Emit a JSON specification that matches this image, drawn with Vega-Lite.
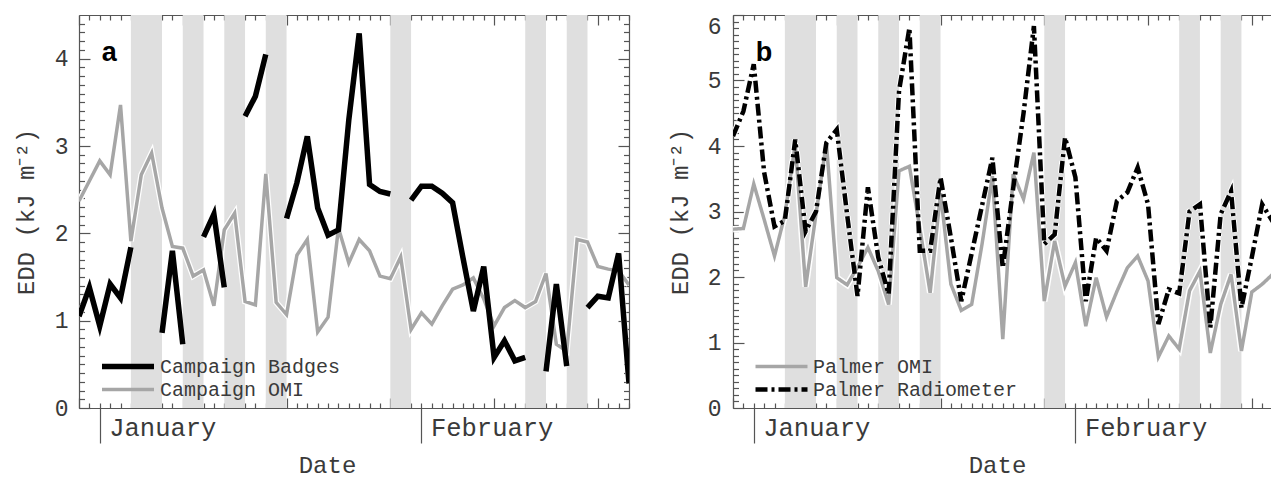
{
  "$schema": "https://vega.github.io/schema/vega-lite/v6.json",
  "background": "white",
  "padding": {"left": 14, "top": 14, "right": 0, "bottom": 3},
  "spacing": 104,
  "bounds": "flush",
  "config": {
    "view": {"stroke": null},
    "font": "Liberation Mono",
    "axis": {"grid": false, "labelFont": "Liberation Mono", "titleFont": "Liberation Mono", "domainColor": "#555555", "tickColor": "#555555", "labelColor": "#3a3a3a", "titleColor": "#3a3a3a", "titleFontWeight": "normal", "domainWidth": 1.2, "tickWidth": 1.2, "labelFlush": false, "labelOverlap": false, "labelBound": false},
    "legend": {"labelFont": "Liberation Mono", "labelColor": "#3a3a3a", "labelLimit": 0}
  },
  "datasets": {
    "bands": [{"start": 5, "end": 8}, {"start": 10, "end": 12}, {"start": 14, "end": 16}, {"start": 18, "end": 20}, {"start": 30, "end": 32}, {"start": 43, "end": 45}, {"start": 47, "end": 49}],
    "left": [
      {"day": 0, "value": 2.37, "series": "Campaign OMI", "seg": 1}, {"day": 1, "value": 2.6, "series": "Campaign OMI", "seg": 1}, {"day": 2, "value": 2.83, "series": "Campaign OMI", "seg": 1}, {"day": 3, "value": 2.67, "series": "Campaign OMI", "seg": 1}, {"day": 4, "value": 3.47, "series": "Campaign OMI", "seg": 1}, {"day": 5, "value": 1.91, "series": "Campaign OMI", "seg": 1}, {"day": 6, "value": 2.67, "series": "Campaign OMI", "seg": 1}, {"day": 7, "value": 2.92, "series": "Campaign OMI", "seg": 1}, {"day": 8, "value": 2.29, "series": "Campaign OMI", "seg": 1}, {"day": 9, "value": 1.85, "series": "Campaign OMI", "seg": 1},
      {"day": 10, "value": 1.83, "series": "Campaign OMI", "seg": 1}, {"day": 11, "value": 1.51, "series": "Campaign OMI", "seg": 1}, {"day": 12, "value": 1.58, "series": "Campaign OMI", "seg": 1}, {"day": 13, "value": 1.17, "series": "Campaign OMI", "seg": 1}, {"day": 14, "value": 2.04, "series": "Campaign OMI", "seg": 1}, {"day": 15, "value": 2.23, "series": "Campaign OMI", "seg": 1}, {"day": 16, "value": 1.22, "series": "Campaign OMI", "seg": 1}, {"day": 17, "value": 1.18, "series": "Campaign OMI", "seg": 1}, {"day": 18, "value": 2.68, "series": "Campaign OMI", "seg": 1}, {"day": 19, "value": 1.21, "series": "Campaign OMI", "seg": 1},
      {"day": 20, "value": 1.07, "series": "Campaign OMI", "seg": 1}, {"day": 21, "value": 1.75, "series": "Campaign OMI", "seg": 1}, {"day": 22, "value": 1.93, "series": "Campaign OMI", "seg": 1}, {"day": 23, "value": 0.87, "series": "Campaign OMI", "seg": 1}, {"day": 24, "value": 1.04, "series": "Campaign OMI", "seg": 1}, {"day": 25, "value": 2.06, "series": "Campaign OMI", "seg": 1}, {"day": 26, "value": 1.66, "series": "Campaign OMI", "seg": 1}, {"day": 27, "value": 1.93, "series": "Campaign OMI", "seg": 1}, {"day": 28, "value": 1.8, "series": "Campaign OMI", "seg": 1}, {"day": 29, "value": 1.51, "series": "Campaign OMI", "seg": 1},
      {"day": 30, "value": 1.48, "series": "Campaign OMI", "seg": 1}, {"day": 31, "value": 1.73, "series": "Campaign OMI", "seg": 1}, {"day": 32, "value": 0.9, "series": "Campaign OMI", "seg": 1}, {"day": 33, "value": 1.09, "series": "Campaign OMI", "seg": 1}, {"day": 34, "value": 0.96, "series": "Campaign OMI", "seg": 1}, {"day": 35, "value": 1.17, "series": "Campaign OMI", "seg": 1}, {"day": 36, "value": 1.36, "series": "Campaign OMI", "seg": 1}, {"day": 37, "value": 1.41, "series": "Campaign OMI", "seg": 1}, {"day": 38, "value": 1.49, "series": "Campaign OMI", "seg": 1}, {"day": 39, "value": 1.25, "series": "Campaign OMI", "seg": 1},
      {"day": 40, "value": 0.94, "series": "Campaign OMI", "seg": 1}, {"day": 41, "value": 1.15, "series": "Campaign OMI", "seg": 1}, {"day": 42, "value": 1.23, "series": "Campaign OMI", "seg": 1}, {"day": 43, "value": 1.15, "series": "Campaign OMI", "seg": 1}, {"day": 44, "value": 1.22, "series": "Campaign OMI", "seg": 1}, {"day": 45, "value": 1.54, "series": "Campaign OMI", "seg": 1}, {"day": 46, "value": 0.73, "series": "Campaign OMI", "seg": 1}, {"day": 47, "value": 0.65, "series": "Campaign OMI", "seg": 1}, {"day": 48, "value": 1.93, "series": "Campaign OMI", "seg": 1}, {"day": 49, "value": 1.9, "series": "Campaign OMI", "seg": 1},
      {"day": 50, "value": 1.62, "series": "Campaign OMI", "seg": 1}, {"day": 51, "value": 1.59, "series": "Campaign OMI", "seg": 1}, {"day": 52, "value": 1.57, "series": "Campaign OMI", "seg": 1}, {"day": 53, "value": 1.41, "series": "Campaign OMI", "seg": 1},
      {"day": 0, "value": 1.05, "series": "Campaign Badges", "seg": 1}, {"day": 1, "value": 1.38, "series": "Campaign Badges", "seg": 1}, {"day": 2, "value": 0.94, "series": "Campaign Badges", "seg": 1}, {"day": 3, "value": 1.42, "series": "Campaign Badges", "seg": 1}, {"day": 4, "value": 1.26, "series": "Campaign Badges", "seg": 1}, {"day": 5, "value": 1.84, "series": "Campaign Badges", "seg": 1},
      {"day": 8, "value": 0.86, "series": "Campaign Badges", "seg": 2}, {"day": 9, "value": 1.8, "series": "Campaign Badges", "seg": 2}, {"day": 10, "value": 0.73, "series": "Campaign Badges", "seg": 2},
      {"day": 12, "value": 1.96, "series": "Campaign Badges", "seg": 3}, {"day": 13, "value": 2.22, "series": "Campaign Badges", "seg": 3}, {"day": 14, "value": 1.38, "series": "Campaign Badges", "seg": 3},
      {"day": 16, "value": 3.34, "series": "Campaign Badges", "seg": 4}, {"day": 17, "value": 3.57, "series": "Campaign Badges", "seg": 4}, {"day": 18, "value": 4.05, "series": "Campaign Badges", "seg": 4},
      {"day": 20, "value": 2.17, "series": "Campaign Badges", "seg": 5}, {"day": 21, "value": 2.58, "series": "Campaign Badges", "seg": 5}, {"day": 22, "value": 3.11, "series": "Campaign Badges", "seg": 5}, {"day": 23, "value": 2.29, "series": "Campaign Badges", "seg": 5}, {"day": 24, "value": 1.98, "series": "Campaign Badges", "seg": 5}, {"day": 25, "value": 2.04, "series": "Campaign Badges", "seg": 5}, {"day": 26, "value": 3.3, "series": "Campaign Badges", "seg": 5}, {"day": 27, "value": 4.29, "series": "Campaign Badges", "seg": 5}, {"day": 28, "value": 2.56, "series": "Campaign Badges", "seg": 5}, {"day": 29, "value": 2.48, "series": "Campaign Badges", "seg": 5}, {"day": 30, "value": 2.45, "series": "Campaign Badges", "seg": 5},
      {"day": 32, "value": 2.38, "series": "Campaign Badges", "seg": 6}, {"day": 33, "value": 2.54, "series": "Campaign Badges", "seg": 6}, {"day": 34, "value": 2.54, "series": "Campaign Badges", "seg": 6}, {"day": 35, "value": 2.46, "series": "Campaign Badges", "seg": 6}, {"day": 36, "value": 2.35, "series": "Campaign Badges", "seg": 6}, {"day": 37, "value": 1.72, "series": "Campaign Badges", "seg": 6}, {"day": 38, "value": 1.11, "series": "Campaign Badges", "seg": 6}, {"day": 39, "value": 1.62, "series": "Campaign Badges", "seg": 6}, {"day": 40, "value": 0.58, "series": "Campaign Badges", "seg": 6}, {"day": 41, "value": 0.77, "series": "Campaign Badges", "seg": 6}, {"day": 42, "value": 0.54, "series": "Campaign Badges", "seg": 6}, {"day": 43, "value": 0.58, "series": "Campaign Badges", "seg": 6},
      {"day": 45, "value": 0.42, "series": "Campaign Badges", "seg": 7}, {"day": 46, "value": 1.42, "series": "Campaign Badges", "seg": 7}, {"day": 47, "value": 0.48, "series": "Campaign Badges", "seg": 7},
      {"day": 49, "value": 1.15, "series": "Campaign Badges", "seg": 8}, {"day": 50, "value": 1.28, "series": "Campaign Badges", "seg": 8}, {"day": 51, "value": 1.26, "series": "Campaign Badges", "seg": 8}, {"day": 52, "value": 1.77, "series": "Campaign Badges", "seg": 8}, {"day": 53, "value": 0.28, "series": "Campaign Badges", "seg": 8}
    ],
    "right": [
      {"day": 0, "value": 2.73, "series": "Palmer OMI", "seg": 1}, {"day": 1, "value": 2.74, "series": "Palmer OMI", "seg": 1}, {"day": 2, "value": 3.42, "series": "Palmer OMI", "seg": 1}, {"day": 3, "value": 2.88, "series": "Palmer OMI", "seg": 1}, {"day": 4, "value": 2.32, "series": "Palmer OMI", "seg": 1}, {"day": 5, "value": 2.95, "series": "Palmer OMI", "seg": 1}, {"day": 6, "value": 4.03, "series": "Palmer OMI", "seg": 1}, {"day": 7, "value": 1.85, "series": "Palmer OMI", "seg": 1}, {"day": 8, "value": 2.96, "series": "Palmer OMI", "seg": 1}, {"day": 9, "value": 4.05, "series": "Palmer OMI", "seg": 1},
      {"day": 10, "value": 1.99, "series": "Palmer OMI", "seg": 1}, {"day": 11, "value": 1.88, "series": "Palmer OMI", "seg": 1}, {"day": 12, "value": 2.15, "series": "Palmer OMI", "seg": 1}, {"day": 13, "value": 2.45, "series": "Palmer OMI", "seg": 1}, {"day": 14, "value": 2.09, "series": "Palmer OMI", "seg": 1}, {"day": 15, "value": 1.58, "series": "Palmer OMI", "seg": 1}, {"day": 16, "value": 3.62, "series": "Palmer OMI", "seg": 1}, {"day": 17, "value": 3.69, "series": "Palmer OMI", "seg": 1}, {"day": 18, "value": 2.75, "series": "Palmer OMI", "seg": 1}, {"day": 19, "value": 1.76, "series": "Palmer OMI", "seg": 1},
      {"day": 20, "value": 3.28, "series": "Palmer OMI", "seg": 1}, {"day": 21, "value": 1.89, "series": "Palmer OMI", "seg": 1}, {"day": 22, "value": 1.49, "series": "Palmer OMI", "seg": 1}, {"day": 23, "value": 1.58, "series": "Palmer OMI", "seg": 1}, {"day": 24, "value": 2.5, "series": "Palmer OMI", "seg": 1}, {"day": 25, "value": 3.54, "series": "Palmer OMI", "seg": 1}, {"day": 26, "value": 1.05, "series": "Palmer OMI", "seg": 1}, {"day": 27, "value": 3.57, "series": "Palmer OMI", "seg": 1}, {"day": 28, "value": 3.19, "series": "Palmer OMI", "seg": 1}, {"day": 29, "value": 3.9, "series": "Palmer OMI", "seg": 1},
      {"day": 30, "value": 1.63, "series": "Palmer OMI", "seg": 1}, {"day": 31, "value": 2.55, "series": "Palmer OMI", "seg": 1}, {"day": 32, "value": 1.86, "series": "Palmer OMI", "seg": 1}, {"day": 33, "value": 2.22, "series": "Palmer OMI", "seg": 1}, {"day": 34, "value": 1.25, "series": "Palmer OMI", "seg": 1}, {"day": 35, "value": 1.99, "series": "Palmer OMI", "seg": 1}, {"day": 36, "value": 1.39, "series": "Palmer OMI", "seg": 1}, {"day": 37, "value": 1.78, "series": "Palmer OMI", "seg": 1}, {"day": 38, "value": 2.14, "series": "Palmer OMI", "seg": 1}, {"day": 39, "value": 2.32, "series": "Palmer OMI", "seg": 1},
      {"day": 40, "value": 1.94, "series": "Palmer OMI", "seg": 1}, {"day": 41, "value": 0.78, "series": "Palmer OMI", "seg": 1}, {"day": 42, "value": 1.1, "series": "Palmer OMI", "seg": 1}, {"day": 43, "value": 0.9, "series": "Palmer OMI", "seg": 1}, {"day": 44, "value": 1.79, "series": "Palmer OMI", "seg": 1}, {"day": 45, "value": 2.09, "series": "Palmer OMI", "seg": 1}, {"day": 46, "value": 0.84, "series": "Palmer OMI", "seg": 1}, {"day": 47, "value": 1.58, "series": "Palmer OMI", "seg": 1}, {"day": 48, "value": 2.04, "series": "Palmer OMI", "seg": 1}, {"day": 49, "value": 0.87, "series": "Palmer OMI", "seg": 1},
      {"day": 50, "value": 1.77, "series": "Palmer OMI", "seg": 1}, {"day": 51, "value": 1.89, "series": "Palmer OMI", "seg": 1}, {"day": 52, "value": 2.04, "series": "Palmer OMI", "seg": 1}, {"day": 53, "value": 2.1, "series": "Palmer OMI", "seg": 1},
      {"day": 0, "value": 4.15, "series": "Palmer Radiometer", "seg": 1}, {"day": 1, "value": 4.53, "series": "Palmer Radiometer", "seg": 1}, {"day": 2, "value": 5.25, "series": "Palmer Radiometer", "seg": 1}, {"day": 3, "value": 3.6, "series": "Palmer Radiometer", "seg": 1}, {"day": 4, "value": 2.77, "series": "Palmer Radiometer", "seg": 1}, {"day": 5, "value": 2.86, "series": "Palmer Radiometer", "seg": 1}, {"day": 6, "value": 4.1, "series": "Palmer Radiometer", "seg": 1}, {"day": 7, "value": 2.7, "series": "Palmer Radiometer", "seg": 1}, {"day": 8, "value": 3.0, "series": "Palmer Radiometer", "seg": 1}, {"day": 9, "value": 4.05, "series": "Palmer Radiometer", "seg": 1},
      {"day": 10, "value": 4.25, "series": "Palmer Radiometer", "seg": 1}, {"day": 11, "value": 2.95, "series": "Palmer Radiometer", "seg": 1}, {"day": 12, "value": 1.71, "series": "Palmer Radiometer", "seg": 1}, {"day": 13, "value": 3.37, "series": "Palmer Radiometer", "seg": 1}, {"day": 14, "value": 2.3, "series": "Palmer Radiometer", "seg": 1}, {"day": 15, "value": 1.74, "series": "Palmer Radiometer", "seg": 1}, {"day": 16, "value": 4.84, "series": "Palmer Radiometer", "seg": 1}, {"day": 17, "value": 5.8, "series": "Palmer Radiometer", "seg": 1}, {"day": 18, "value": 2.4, "series": "Palmer Radiometer", "seg": 1}, {"day": 19, "value": 2.4, "series": "Palmer Radiometer", "seg": 1},
      {"day": 20, "value": 3.52, "series": "Palmer Radiometer", "seg": 1}, {"day": 21, "value": 2.6, "series": "Palmer Radiometer", "seg": 1}, {"day": 22, "value": 1.63, "series": "Palmer Radiometer", "seg": 1}, {"day": 23, "value": 2.36, "series": "Palmer Radiometer", "seg": 1}, {"day": 24, "value": 3.09, "series": "Palmer Radiometer", "seg": 1}, {"day": 25, "value": 3.82, "series": "Palmer Radiometer", "seg": 1}, {"day": 26, "value": 2.14, "series": "Palmer Radiometer", "seg": 1}, {"day": 27, "value": 3.35, "series": "Palmer Radiometer", "seg": 1}, {"day": 28, "value": 4.5, "series": "Palmer Radiometer", "seg": 1}, {"day": 29, "value": 5.83, "series": "Palmer Radiometer", "seg": 1},
      {"day": 30, "value": 2.5, "series": "Palmer Radiometer", "seg": 1}, {"day": 31, "value": 2.65, "series": "Palmer Radiometer", "seg": 1}, {"day": 32, "value": 4.13, "series": "Palmer Radiometer", "seg": 1}, {"day": 33, "value": 3.52, "series": "Palmer Radiometer", "seg": 1}, {"day": 34, "value": 1.63, "series": "Palmer Radiometer", "seg": 1}, {"day": 35, "value": 2.6, "series": "Palmer Radiometer", "seg": 1}, {"day": 36, "value": 2.4, "series": "Palmer Radiometer", "seg": 1}, {"day": 37, "value": 3.16, "series": "Palmer Radiometer", "seg": 1}, {"day": 38, "value": 3.29, "series": "Palmer Radiometer", "seg": 1}, {"day": 39, "value": 3.67, "series": "Palmer Radiometer", "seg": 1},
      {"day": 40, "value": 3.11, "series": "Palmer Radiometer", "seg": 1}, {"day": 41, "value": 1.28, "series": "Palmer Radiometer", "seg": 1}, {"day": 42, "value": 1.81, "series": "Palmer Radiometer", "seg": 1}, {"day": 43, "value": 1.75, "series": "Palmer Radiometer", "seg": 1}, {"day": 44, "value": 3.0, "series": "Palmer Radiometer", "seg": 1}, {"day": 45, "value": 3.11, "series": "Palmer Radiometer", "seg": 1}, {"day": 46, "value": 1.23, "series": "Palmer Radiometer", "seg": 1}, {"day": 47, "value": 2.96, "series": "Palmer Radiometer", "seg": 1}, {"day": 48, "value": 3.31, "series": "Palmer Radiometer", "seg": 1}, {"day": 49, "value": 1.53, "series": "Palmer Radiometer", "seg": 1},
      {"day": 50, "value": 2.3, "series": "Palmer Radiometer", "seg": 1}, {"day": 51, "value": 3.11, "series": "Palmer Radiometer", "seg": 1}, {"day": 52, "value": 2.85, "series": "Palmer Radiometer", "seg": 1}, {"day": 53, "value": 2.9, "series": "Palmer Radiometer", "seg": 1}
    ]
  },
  "hconcat": [
    {
      "width": 550,
      "height": 393,
      "layer": [
        {
          "data": {"name": "bands"},
          "mark": {"type": "rect", "color": "#dfdfdf"},
          "encoding": {
            "x": {"field": "start", "type": "quantitative", "scale": {"domain": [0, 53], "nice": false, "zero": false},
              "axis": {"orient": "bottom", "values": [0,1,2,3,4,5,6,7,8,9,10,11,12,13,14,15,16,17,18,19,20,21,22,23,24,25,26,27,28,29,30,31,32,33,34,35,36,37,38,39,40,41,42,43,44,45,46,47,48,49,50,51,52,53], "labels": false, "title": null,
                "tickSize": {"condition": {"test": "datum.value % 10 === 0", "value": -10}, "value": -5}}},
            "x2": {"field": "end"}
          }
        },
        {
          "data": {"name": "left"},
          "mark": {"type": "line", "color": "white", "strokeWidth": 6, "clip": true},
          "encoding": {
            "x": {"field": "day", "type": "quantitative",
              "axis": {"orient": "top", "values": [0,1,2,3,4,5,6,7,8,9,10,11,12,13,14,15,16,17,18,19,20,21,22,23,24,25,26,27,28,29,30,31,32,33,34,35,36,37,38,39,40,41,42,43,44,45,46,47,48,49,50,51,52,53], "labels": false, "title": null,
                "tickSize": {"condition": {"test": "datum.value % 10 === 0", "value": -10}, "value": -5}}},
            "y": {"field": "value", "type": "quantitative", "scale": {"domain": [0, 4.5], "nice": false},
              "axis": {"orient": "left", "values": [0, 1, 2, 3, 4], "ticks": false, "domain": false, "labelPadding": 11, "labelFontSize": 23,
                "title": "EDD (kJ m⁻²)", "titleFontSize": 24, "titleAngle": -90, "titleX": -46, "titleY": 196.5, "titleBaseline": "alphabetic", "titleAlign": "center"}},
            "detail": [{"field": "series"}, {"field": "seg"}]
          }
        },
        {
          "data": {"name": "left"},
          "transform": [{"filter": "datum.series === 'Campaign OMI'"}],
          "mark": {"type": "line", "clip": true},
          "encoding": {
            "x": {"field": "day", "type": "quantitative",
              "axis": {"orient": "bottom", "values": [2, 33], "labelExpr": "datum.value < 10 ? 'January' : 'February'", "tickSize": 35, "domain": false,
                "labelAlign": "left", "labelBaseline": "alphabetic", "labelOffset": 9, "labelPadding": -8, "labelFontSize": 25.5,
                "title": "Date", "titleFontSize": 24, "titleX": 248, "titleY": 64, "titleAlign": "center", "titleBaseline": "alphabetic"}},
            "y": {"field": "value", "type": "quantitative",
              "axis": {"orient": "left", "values": [0,0.1,0.2,0.3,0.4,0.5,0.6,0.7,0.8,0.9,1,1.1,1.2,1.3,1.4,1.5,1.6,1.7,1.8,1.9,2,2.1,2.2,2.3,2.4,2.5,2.6,2.7,2.8,2.9,3,3.1,3.2,3.3,3.4,3.5,3.6,3.7,3.8,3.9,4,4.1,4.2,4.3,4.4], "labels": false, "title": null,
                "tickSize": {"condition": {"test": "abs(datum.value - round(datum.value)) < 0.01", "value": -11}, "value": -5.5}}},
            "color": {"field": "series", "type": "nominal", "scale": {"domain": ["Campaign Badges", "Campaign OMI"], "range": ["#000000", "#a6a6a6"]},
              "legend": {"orient": "none", "legendX": 20, "legendY": 340, "title": null, "symbolType": "stroke", "symbolSize": 2704, "labelFontSize": 20, "labelOffset": 3, "rowPadding": 0, "clipHeight": 23, "padding": 0}},
            "strokeWidth": {"field": "series", "type": "nominal", "scale": {"domain": ["Campaign Badges", "Campaign OMI"], "range": [5.5, 3.5]},
              "legend": {"orient": "none", "legendX": 20, "legendY": 340, "title": null, "symbolType": "stroke", "symbolSize": 2704, "labelFontSize": 20, "labelOffset": 3, "rowPadding": 0, "clipHeight": 23, "padding": 0}},
            "detail": {"field": "seg"}
          }
        },
        {
          "data": {"name": "left"},
          "transform": [{"filter": "datum.series === 'Campaign Badges'"}],
          "mark": {"type": "line", "clip": true},
          "encoding": {
            "x": {"field": "day", "type": "quantitative", "axis": null},
            "y": {"field": "value", "type": "quantitative",
              "axis": {"orient": "right", "values": [0,0.1,0.2,0.3,0.4,0.5,0.6,0.7,0.8,0.9,1,1.1,1.2,1.3,1.4,1.5,1.6,1.7,1.8,1.9,2,2.1,2.2,2.3,2.4,2.5,2.6,2.7,2.8,2.9,3,3.1,3.2,3.3,3.4,3.5,3.6,3.7,3.8,3.9,4,4.1,4.2,4.3,4.4], "labels": false, "title": null,
                "tickSize": {"condition": {"test": "abs(datum.value - round(datum.value)) < 0.01", "value": -11}, "value": -5.5}}},
            "color": {"field": "series", "type": "nominal", "scale": {"domain": ["Campaign Badges", "Campaign OMI"], "range": ["#000000", "#a6a6a6"]},
              "legend": {"orient": "none", "legendX": 20, "legendY": 340, "title": null, "symbolType": "stroke", "symbolSize": 2704, "labelFontSize": 20, "labelOffset": 3, "rowPadding": 0, "clipHeight": 23, "padding": 0}},
            "strokeWidth": {"field": "series", "type": "nominal", "scale": {"domain": ["Campaign Badges", "Campaign OMI"], "range": [5.5, 3.5]},
              "legend": {"orient": "none", "legendX": 20, "legendY": 340, "title": null, "symbolType": "stroke", "symbolSize": 2704, "labelFontSize": 20, "labelOffset": 3, "rowPadding": 0, "clipHeight": 23, "padding": 0}},
            "detail": {"field": "seg"}
          }
        },
        {
          "data": {"values": [{"label": "a"}]},
          "mark": {"type": "text", "font": "Liberation Sans", "fontSize": 27, "fontWeight": "bold", "align": "left", "baseline": "alphabetic", "color": "#000000"},
          "encoding": {
            "x": {"datum": 2.2, "type": "quantitative", "axis": null},
            "y": {"datum": 3.97, "type": "quantitative", "axis": null},
            "text": {"field": "label"}
          }
        }
      ],
      "resolve": {"axis": {"x": "independent", "y": "independent"}}
    },
    {
      "width": 538,
      "height": 393,
      "layer": [
        {
          "data": {"name": "bands"},
          "mark": {"type": "rect", "color": "#dfdfdf"},
          "encoding": {
            "x": {"field": "start", "type": "quantitative", "scale": {"domain": [0, 51.85], "nice": false, "zero": false},
              "axis": {"orient": "bottom", "values": [0,1,2,3,4,5,6,7,8,9,10,11,12,13,14,15,16,17,18,19,20,21,22,23,24,25,26,27,28,29,30,31,32,33,34,35,36,37,38,39,40,41,42,43,44,45,46,47,48,49,50,51], "labels": false, "title": null,
                "tickSize": {"condition": {"test": "datum.value % 10 === 0", "value": -10}, "value": -5}}},
            "x2": {"field": "end"}
          }
        },
        {
          "data": {"name": "right"},
          "mark": {"type": "line", "color": "white", "strokeWidth": 6.5, "clip": true},
          "encoding": {
            "x": {"field": "day", "type": "quantitative",
              "axis": {"orient": "top", "values": [0,1,2,3,4,5,6,7,8,9,10,11,12,13,14,15,16,17,18,19,20,21,22,23,24,25,26,27,28,29,30,31,32,33,34,35,36,37,38,39,40,41,42,43,44,45,46,47,48,49,50,51], "labels": false, "title": null,
                "tickSize": {"condition": {"test": "datum.value % 10 === 0", "value": -10}, "value": -5}}},
            "y": {"field": "value", "type": "quantitative", "scale": {"domain": [0, 6], "nice": false},
              "axis": {"orient": "left", "values": [0, 1, 2, 3, 4, 5, 6], "ticks": false, "domain": false, "labelPadding": 12, "labelFontSize": 23,
                "labelBaseline": {"condition": {"test": "datum.value === 6", "value": "top"}, "value": "middle"},
                "title": "EDD (kJ m⁻²)", "titleFontSize": 24, "titleAngle": -90, "titleX": -46, "titleY": 196.5, "titleBaseline": "alphabetic", "titleAlign": "center"}},
            "strokeDash": {"field": "series", "type": "nominal", "scale": {"domain": ["Palmer OMI", "Palmer Radiometer"], "range": [[1, 0], [12, 4, 3, 4]]},
              "legend": {"orient": "none", "legendX": 20, "legendY": 340, "title": null, "symbolType": "stroke", "symbolSize": 2704, "labelFontSize": 20, "labelOffset": 3, "rowPadding": 0, "clipHeight": 23, "padding": 0}},
            "detail": [{"field": "series"}, {"field": "seg"}]
          }
        },
        {
          "data": {"name": "right"},
          "transform": [{"filter": "datum.series === 'Palmer OMI'"}],
          "mark": {"type": "line", "clip": true},
          "encoding": {
            "x": {"field": "day", "type": "quantitative",
              "axis": {"orient": "bottom", "values": [2, 33], "labelExpr": "datum.value < 10 ? 'January' : 'February'", "tickSize": 35, "domain": false,
                "labelAlign": "left", "labelBaseline": "alphabetic", "labelOffset": 9, "labelPadding": -8, "labelFontSize": 25.5,
                "title": "Date", "titleFontSize": 24, "titleX": 264, "titleY": 64, "titleAlign": "center", "titleBaseline": "alphabetic"}},
            "y": {"field": "value", "type": "quantitative",
              "axis": {"orient": "left", "values": [0,0.1,0.2,0.3,0.4,0.5,0.6,0.7,0.8,0.9,1,1.1,1.2,1.3,1.4,1.5,1.6,1.7,1.8,1.9,2,2.1,2.2,2.3,2.4,2.5,2.6,2.7,2.8,2.9,3,3.1,3.2,3.3,3.4,3.5,3.6,3.7,3.8,3.9,4,4.1,4.2,4.3,4.4,4.5,4.6,4.7,4.8,4.9,5,5.1,5.2,5.3,5.4,5.5,5.6,5.7,5.8,5.9,6], "labels": false, "title": null,
                "tickSize": {"condition": {"test": "abs(datum.value - round(datum.value)) < 0.01", "value": -11}, "value": -5.5}}},
            "color": {"field": "series", "type": "nominal", "scale": {"domain": ["Palmer OMI", "Palmer Radiometer"], "range": ["#a6a6a6", "#000000"]},
              "legend": {"orient": "none", "legendX": 20, "legendY": 340, "title": null, "symbolType": "stroke", "symbolSize": 2704, "labelFontSize": 20, "labelOffset": 3, "rowPadding": 0, "clipHeight": 23, "padding": 0}},
            "strokeWidth": {"field": "series", "type": "nominal", "scale": {"domain": ["Palmer OMI", "Palmer Radiometer"], "range": [3.5, 4.5]},
              "legend": {"orient": "none", "legendX": 20, "legendY": 340, "title": null, "symbolType": "stroke", "symbolSize": 2704, "labelFontSize": 20, "labelOffset": 3, "rowPadding": 0, "clipHeight": 23, "padding": 0}},
            "strokeDash": {"field": "series", "type": "nominal", "scale": {"domain": ["Palmer OMI", "Palmer Radiometer"], "range": [[1, 0], [12, 4, 3, 4]]},
              "legend": {"orient": "none", "legendX": 20, "legendY": 340, "title": null, "symbolType": "stroke", "symbolSize": 2704, "labelFontSize": 20, "labelOffset": 3, "rowPadding": 0, "clipHeight": 23, "padding": 0}},
            "detail": {"field": "seg"}
          }
        },
        {
          "data": {"name": "right"},
          "transform": [{"filter": "datum.series === 'Palmer Radiometer'"}],
          "mark": {"type": "line", "clip": true},
          "encoding": {
            "x": {"field": "day", "type": "quantitative", "axis": null},
            "y": {"field": "value", "type": "quantitative", "axis": null},
            "color": {"field": "series", "type": "nominal", "scale": {"domain": ["Palmer OMI", "Palmer Radiometer"], "range": ["#a6a6a6", "#000000"]},
              "legend": {"orient": "none", "legendX": 20, "legendY": 340, "title": null, "symbolType": "stroke", "symbolSize": 2704, "labelFontSize": 20, "labelOffset": 3, "rowPadding": 0, "clipHeight": 23, "padding": 0}},
            "strokeWidth": {"field": "series", "type": "nominal", "scale": {"domain": ["Palmer OMI", "Palmer Radiometer"], "range": [3.5, 4.5]},
              "legend": {"orient": "none", "legendX": 20, "legendY": 340, "title": null, "symbolType": "stroke", "symbolSize": 2704, "labelFontSize": 20, "labelOffset": 3, "rowPadding": 0, "clipHeight": 23, "padding": 0}},
            "strokeDash": {"field": "series", "type": "nominal", "scale": {"domain": ["Palmer OMI", "Palmer Radiometer"], "range": [[1, 0], [12, 4, 3, 4]]},
              "legend": {"orient": "none", "legendX": 20, "legendY": 340, "title": null, "symbolType": "stroke", "symbolSize": 2704, "labelFontSize": 20, "labelOffset": 3, "rowPadding": 0, "clipHeight": 23, "padding": 0}},
            "detail": {"field": "seg"}
          }
        },
        {
          "data": {"values": [{"label": "b"}]},
          "mark": {"type": "text", "font": "Liberation Sans", "fontSize": 27, "fontWeight": "bold", "align": "left", "baseline": "alphabetic", "color": "#000000"},
          "encoding": {
            "x": {"datum": 2.2, "type": "quantitative", "axis": null},
            "y": {"datum": 5.3, "type": "quantitative", "axis": null},
            "text": {"field": "label"}
          }
        }
      ],
      "resolve": {"axis": {"x": "independent", "y": "independent"}}
    }
  ],
  "resolve": {
    "scale": {"x": "independent", "y": "independent", "color": "independent", "strokeWidth": "independent", "strokeDash": "independent"},
    "legend": {"color": "independent", "strokeWidth": "independent", "strokeDash": "independent"}
  }
}
